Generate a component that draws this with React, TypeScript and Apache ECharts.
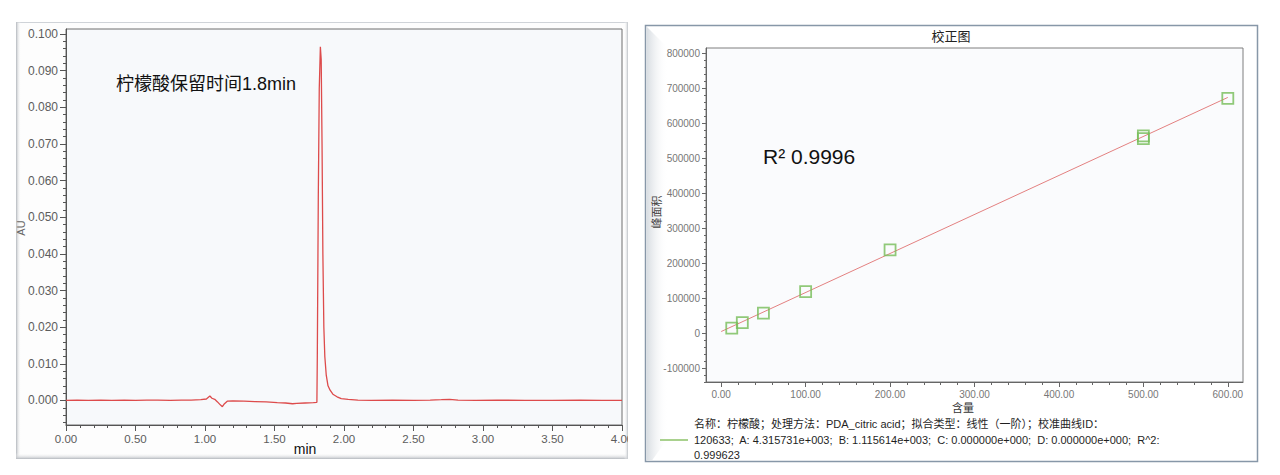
import React, { useEffect, useRef } from 'react';
import * as echarts from 'echarts';

// ---- Chromatogram (left) ----
const chromTime = [
  0.0, 0.08, 0.16, 0.25, 0.33, 0.42, 0.5, 0.58, 0.66, 0.75, 0.83, 0.9, 0.97, 1.01, 1.035, 1.05, 1.07, 1.09,
  1.11, 1.125, 1.14, 1.16, 1.2, 1.28, 1.36, 1.44, 1.52, 1.58, 1.63, 1.66, 1.72, 1.78, 1.805, 1.808, 1.815,
  1.822, 1.83, 1.836, 1.842, 1.848, 1.855, 1.862, 1.872, 1.885, 1.9, 1.92, 1.95, 1.98, 2.03, 2.1, 2.2, 2.35,
  2.5, 2.62, 2.7, 2.76, 2.82, 2.95, 3.1, 3.3, 3.5, 3.7, 3.85, 4.0,
];
const chromAU = [
  0.0, 0.0001, 0.0, 0.0001, 0.0, 0.0001, 0.0, 0.0001, 0.0001, 0.0, 0.0001, 0.0001, 0.0002, 0.0004, 0.0012,
  0.0006, 0.0003, -0.0004, -0.0012, -0.0017, -0.0009, -0.0002, -0.0001, -0.0002, -0.0003, -0.0004, -0.0006,
  -0.0007, -0.0009, -0.0008, -0.0007, -0.0006, -0.0005, 0.012, 0.055, 0.085, 0.0965, 0.093, 0.07, 0.04,
  0.02, 0.012, 0.007, 0.004, 0.0028, 0.0017, 0.001, 0.0005, 0.0003, 0.0001, 0.0, 0.0001, 0.0, 0.0001,
  0.0002, 0.0003, 0.0001, 0.0, 0.0001, 0.0, 0.0, 0.0001, 0.0, 0.0,
];
const leftYTicks = [0, 0.01, 0.02, 0.03, 0.04, 0.05, 0.06, 0.07, 0.08, 0.09, 0.1];
const leftXTicks = [0, 0.5, 1.0, 1.5, 2.0, 2.5, 3.0, 3.5, 4.0];

// ---- Calibration (right) ----
const calConc = [12.5, 25, 50, 100, 200, 500, 500, 600];
const calArea = [14000, 29500, 57000, 118500, 237500, 556000, 564000, 671000];
const FIT_A = 4315.731;
const FIT_B = 1115.614;
const fitRange = [0, 600];
const rightXTicks = [0, 100, 200, 300, 400, 500, 600];
const rightYTicks = [-100000, 0, 100000, 200000, 300000, 400000, 500000, 600000, 700000, 800000];

const legendLines = [
  '名称：柠檬酸；处理方法：PDA_citric acid；拟合类型：线性（一阶）；校准曲线ID：',
  '120633;  A: 4.315731e+003;  B: 1.115614e+003;  C: 0.000000e+000;  D: 0.000000e+000;  R^2:',
  '0.999623',
];

const steps = (from: number, to: number, step: number, dec: number) => {
  const out: number[] = [];
  for (let v = from; v <= to + step / 2; v += step) out.push(+v.toFixed(dec));
  return out;
};

const FONT = 'Liberation Sans, Arial, Noto Sans CJK SC, sans-serif';

export default function App() {
  const ref = useRef<HTMLDivElement>(null);
  useEffect(() => {
    document.body.style.margin = '0';
    const chart = echarts.init(ref.current!, undefined, { renderer: 'svg' });

    const L = { min: -0.0067, max: 0.10136 };
    const R = { xmin: -18, xmax: 618, ymin: -140000, ymax: 815000 };
    const axColL = '#555';
    const axColR = '#666';

    const mainAxis = (
      gridIndex: number,
      min: number,
      max: number,
      pos: string,
      ticks: number[],
      fmt: (v: number) => string,
      color: string,
      labelColor: string,
      fontSize: number,
      tickLen: number,
      margin: number,
    ) => ({
      type: 'value',
      gridIndex,
      min,
      max,
      position: pos,
      axisLine: { show: true, onZero: false, lineStyle: { color, width: 1 } },
      axisTick: { show: true, inside: false, length: tickLen, customValues: ticks, lineStyle: { color } },
      axisLabel: {
        customValues: ticks,
        formatter: (v: number) => fmt(v),
        color: labelColor,
        fontSize,
        fontFamily: FONT,
        margin,
      },
      splitLine: { show: false },
    });
    const minorAxis = (gridIndex: number, min: number, max: number, pos: string, ticks: number[], color: string, len: number) => ({
      type: 'value',
      gridIndex,
      min,
      max,
      position: pos,
      axisLine: { show: false, onZero: false },
      axisTick: { show: true, inside: false, length: len, customValues: ticks, lineStyle: { color } },
      axisLabel: { show: false },
      splitLine: { show: false },
    });

    const text = (t: string, x: number, y: number, fontSize: number, fill: string, extra: any = {}) => ({
      type: 'text',
      x,
      y,
      z: 10,
      style: { text: t, fill, fontSize, fontFamily: FONT, align: 'left', verticalAlign: 'middle', ...extra },
    });

    chart.setOption({
      animation: false,
      backgroundColor: '#ffffff',
      grid: [
        { left: 66, right: 658, top: 29, bottom: 50, show: true, borderColor: '#6f6f6f', borderWidth: 1, backgroundColor: '#f7f9fb' },
        { left: 706, right: 37, top: 48, bottom: 93, show: true, borderColor: '#7f7f7f', borderWidth: 1, backgroundColor: '#fafbfd' },
      ],
      xAxis: [
        mainAxis(0, 0, 4, 'bottom', leftXTicks, (v) => v.toFixed(2), axColL, '#5c5c5c', 11.5, 6, 8),
        minorAxis(0, 0, 4, 'bottom', steps(0, 4, 0.1, 2), axColL, 3),
        mainAxis(1, R.xmin, R.xmax, 'bottom', rightXTicks, (v) => v.toFixed(2), axColR, '#777', 10, 5, 7),
        minorAxis(1, R.xmin, R.xmax, 'bottom', steps(0, 600, 20, 0), axColR, 3),
      ],
      yAxis: [
        mainAxis(0, L.min, L.max, 'left', leftYTicks, (v) => v.toFixed(3), axColL, '#5c5c5c', 12, 6, 8),
        minorAxis(0, L.min, L.max, 'left', steps(-0.006, 0.1, 0.002, 3), axColL, 3),
        mainAxis(1, R.ymin, R.ymax, 'left', rightYTicks, (v) => String(Math.round(v)), axColR, '#777', 10, 4, 6),
        minorAxis(1, R.ymin, R.ymax, 'left', steps(-140000, 800000, 20000, 0), axColR, 2),
      ],
      series: [
        {
          type: 'line',
          xAxisIndex: 0,
          yAxisIndex: 0,
          data: chromTime.map((t, i) => [t, chromAU[i]]),
          symbol: 'none',
          showSymbol: false,
          lineStyle: { color: '#dd4b4b', width: 1.3 },
          clip: true,
        },
        {
          type: 'line',
          xAxisIndex: 2,
          yAxisIndex: 2,
          data: fitRange.map((x) => [x, FIT_A + FIT_B * x]),
          symbol: 'none',
          showSymbol: false,
          lineStyle: { color: '#e38080', width: 1 },
        },
        {
          type: 'scatter',
          xAxisIndex: 2,
          yAxisIndex: 2,
          data: calConc.map((c, i) => [c, calArea[i]]),
          symbol: 'rect',
          symbolSize: 11,
          itemStyle: { color: 'rgba(0,0,0,0)', borderColor: '#76bd57', borderWidth: 1.8 },
          z: 5,
        },
      ],
      graphic: [
        // left panel frame
        {
          type: 'rect',
          z: -10,
          shape: { x: 16.5, y: 22.5, width: 611, height: 436 },
          style: { fill: '#fdfdfd', stroke: '#cfd3d8', lineWidth: 1 },
        },
        {
          type: 'rect',
          z: -9,
          shape: { x: 16, y: 22, width: 5, height: 437 },
          style: {
            fill: new echarts.graphic.LinearGradient(0, 0, 1, 0, [
              { offset: 0, color: '#b9bdc2' },
              { offset: 1, color: 'rgba(255,255,255,0)' },
            ]),
          },
        },
        {
          type: 'rect',
          z: -9,
          shape: { x: 16, y: 453, width: 612, height: 6 },
          style: {
            fill: new echarts.graphic.LinearGradient(0, 0, 0, 1, [
              { offset: 0, color: 'rgba(255,255,255,0)' },
              { offset: 1, color: '#b9bdc2' },
            ]),
          },
        },
        {
          type: 'rect',
          z: -9,
          shape: { x: 624, y: 22, width: 4, height: 437 },
          style: {
            fill: new echarts.graphic.LinearGradient(0, 0, 1, 0, [
              { offset: 0, color: 'rgba(255,255,255,0)' },
              { offset: 1, color: '#c4c8cc' },
            ]),
          },
        },
        // cover overflow of the last left x label
        {
          type: 'rect',
          z: 100,
          shape: { x: 628, y: 428, width: 16, height: 22 },
          style: { fill: '#ffffff' },
        },
        // right panel frame
        {
          type: 'rect',
          z: -10,
          shape: { x: 645.5, y: 25.5, width: 612, height: 436 },
          style: { fill: '#ffffff', stroke: '#8797a8', lineWidth: 1.5 },
        },
        {
          type: 'polygon',
          z: -9,
          shape: { points: [[646.5, 26.5], [668, 48], [668, 438], [652, 460.5], [646.5, 460.5]] },
          style: {
            fill: new echarts.graphic.LinearGradient(0, 0, 1, 0, [
              { offset: 0, color: '#d7dce1' },
              { offset: 1, color: 'rgba(255,255,255,0)' },
            ]),
          },
        },
        // texts
        text('柠檬酸保留时间1.8min', 116, 84, 18, '#111'),
        { ...text('AU', 21, 228, 11, '#666', { align: 'center' }), rotation: Math.PI / 2 },
        text('min', 305, 449, 14, '#111', { align: 'center' }),
        text('校正图', 951, 36, 13, '#222', { align: 'center' }),
        text('R² 0.9996', 763, 156, 21, '#111'),
        { ...text('峰面积', 657, 212, 11, '#444', { align: 'center' }), rotation: Math.PI / 2 },
        text('含量', 963, 408, 11, '#333', { align: 'center' }),
        {
          type: 'line',
          z: 10,
          shape: { x1: 660, y1: 440, x2: 688, y2: 440 },
          style: { stroke: '#a9d18e', lineWidth: 2 },
        },
        ...legendLines.map((s, i) => text(s, 694, 424 + i * 15.5, 11, '#1f1f1f')),
      ],
    });
    return () => chart.dispose();
  }, []);
  return <div ref={ref} style={{ width: 1280, height: 475 }} />;
}
